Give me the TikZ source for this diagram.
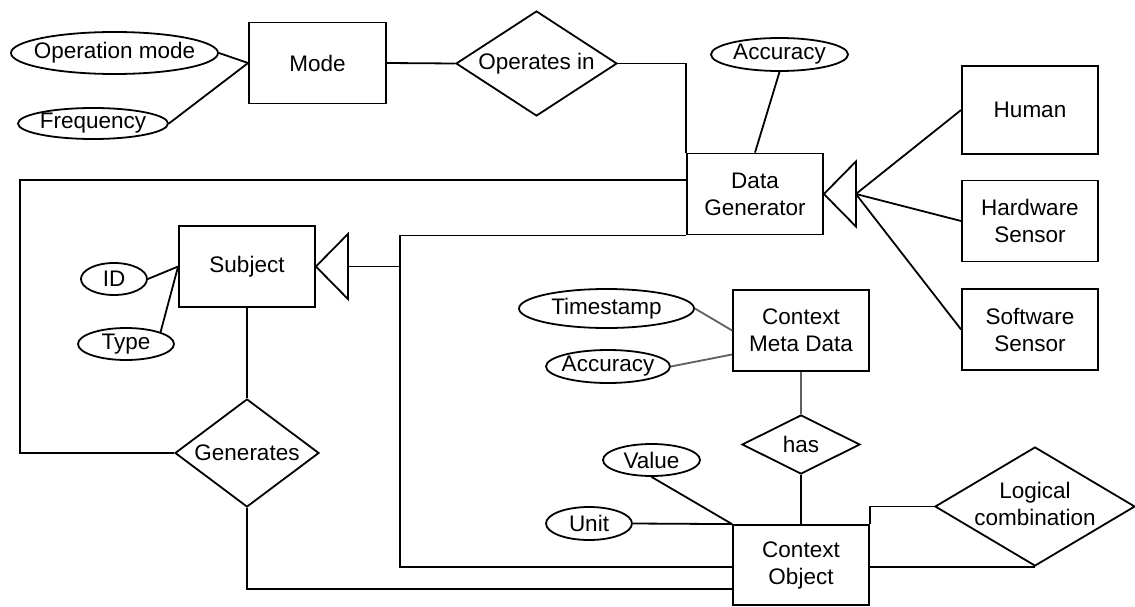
\documentclass[tikz,border=0pt]{standalone}
\usepackage{fontspec}
\setmainfont{Liberation Sans}
\usetikzlibrary{shapes.geometric}
\definecolor{metagray}{RGB}{95,95,95}
\newcommand{\ctr}[1]{\makebox[0pt]{#1}}

\begin{document}
\begin{tikzpicture}[x=1pt,y=-1pt,line width=1.8pt,
            every node/.style={font=\fontsize{22.5}{27}\selectfont,inner sep=0pt},
            entity/.style={draw,rectangle,minimum width=136pt,minimum height=81pt,align=center},
            attr/.style={draw,ellipse},rel/.style={draw,diamond}]
                \useasboundingbox (0,0) rectangle (1135,607);
                % entities
                \node[entity,minimum width=137pt] (mode) at (317.5,63) {Mode};
                \node[entity] (dg) at (755,194) {Data\\Generator};
                \node[entity,minimum height=88pt] (human) at (1030,110) {Human};
                \node[entity] (hw) at (1030,221) {Hardware\\Sensor};
                \node[entity] (sw) at (1030,329.5) {Software\\Sensor};
                \node[entity] (sub) at (247,266.5) {Subject};
                \node[entity] (cmd) at (801,330.5) {Context\\Meta Data};
                \node[entity,minimum height=80pt] (co) at (801,565) {Context\\Object};
                % attributes
                \node[attr,minimum width=207pt,minimum height=42pt] (opmode) at (114.5,53) {\ctr{Operation mode}};
                \node[attr,minimum width=150pt,minimum height=31pt] (freq) at (93,123.5) {\ctr{Frequency}};
                \node[attr,minimum width=137pt,minimum height=33pt] (acc1) at (779.5,54.5) {\ctr{Accuracy}};
                \node[attr,minimum width=66pt,minimum height=32pt] (id) at (114,279) {\ctr{ID}};
                \node[attr,minimum width=96pt,minimum height=32pt] (type) at (126,344) {\ctr{Type}};
                \node[attr,minimum width=175pt,minimum height=39pt] (ts) at (606.5,308.5) {\ctr{Timestamp}};
                \node[attr,minimum width=124pt,minimum height=33pt] (acc2) at (608,366.5) {\ctr{Accuracy}};
                \node[attr,minimum width=97pt,minimum height=32pt] (value) at (651.5,460) {\ctr{Value}};
                \node[attr,minimum width=86pt,minimum height=33pt] (unit) at (589,523.5) {\ctr{Unit}};
                % relationships
                \node[rel,minimum width=161pt,minimum height=105pt] (opin) at (536.5,63.5) {\ctr{Operates in}};
                \node[rel,minimum width=144pt,minimum height=108pt] (gen) at (247,453) {\ctr{Generates}};
                \node[rel,minimum width=118pt,minimum height=59pt] (has) at (801,444.5) {\ctr{has}};
                \node[rel,minimum width=200pt,minimum height=119pt] (lc) at (1035,506.5)
                    {\ctr{\begin{tabular}{@{}c@{}}Logical\\combination\end{tabular}}};
                % is-a triangles
                \coordinate (dgisa) at ([xshift=32pt]dg.east);
                \coordinate (subisa) at ([xshift=32pt]sub.east);
                \draw (dg.east) -- ++(32,-32.5) -- ++(0,65) -- cycle;
                \draw (sub.east) -- ++(32,-32.5) -- ++(0,65) -- cycle;
                \draw (dgisa) -- (human.west);
                \draw (dgisa) -- (hw.west);
                \draw (dgisa) -- (sw.west);
                % connectors
                \draw (opmode.east) -- (mode.west);
                \draw (freq.east) -- (mode.west);
                \draw (mode.east) -- (opin.west);
                \draw (opin.east) -| (dg.north west);
                \draw (acc1.south) -- (dg.north);
                \draw ([yshift=14pt]dg.west) -- ++(-666,0) |- (gen.west);
                \draw (dg.south west) -- ++(-286,0) coordinate (bend) |- ([yshift=-2pt]co.west);
                \draw (subisa) -- (subisa -| bend);
                \draw (id.east) -- (sub.west);
                \draw (type.north east) -- (sub.west);
                \draw (sub.south) -- (gen.north);
                \draw (gen.south) |- ([yshift=-24pt]co.west);
                \draw[metagray] (ts.east) -- (cmd.west);
                \draw[metagray] (acc2.east) -- ([yshift=-24pt]cmd.west);
                \draw[metagray] (cmd.south) -- (has.north);
                \draw (has.south) -- (co.north);
                \draw (value.south) -- (co.north west);
                \draw (unit.east) -- (co.north west);
                \draw (lc.west) -| (co.north east);
                \draw (lc.south) -- (lc.south -| co.east);
        \end{tikzpicture}
\end{document}
